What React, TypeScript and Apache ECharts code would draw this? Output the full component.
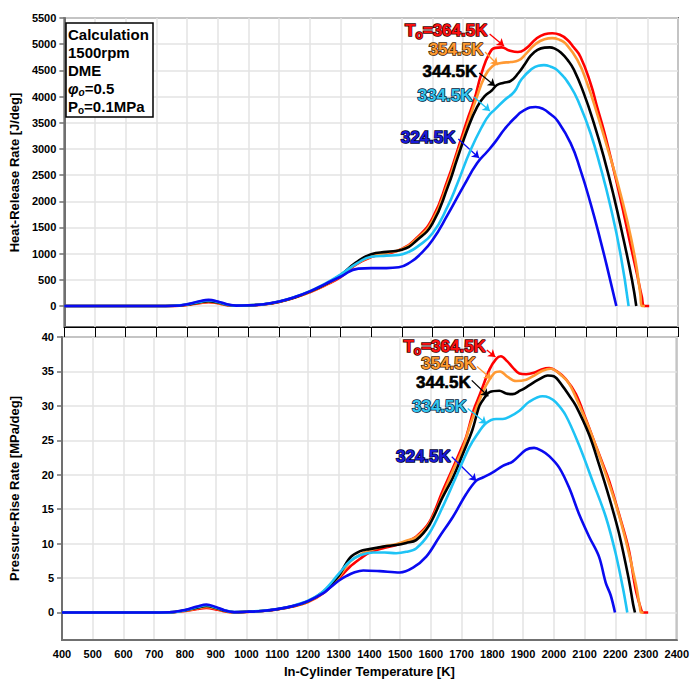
import React, { useEffect, useRef } from 'react';
import * as echarts from 'echarts';

const FONT = '"Liberation Sans", Arial, Helvetica, sans-serif';

// ---- data: [temperature K, value] ----
const hrr364 = [[400,0],[700,0],[760,4],[800,22],[840,55],[870,72],[900,52],[930,18],[960,5],[1000,12],[1050,32],[1100,80],[1150,160],[1200,265],[1250,395],[1300,550],[1350,790],[1400,935],[1450,1000],[1500,1090],[1550,1310],[1600,1680],[1650,2420],[1680,2950],[1713,3550],[1735,3920],[1760,4450],[1785,4820],[1805,4930],[1825,4940],[1850,4880],[1878,4850],[1905,4920],[1937,5100],[1965,5190],[1990,5210],[2015,5180],[2040,5080],[2060,4940],[2082,4760],[2115,4250],[2136,3810],[2158,3360],[2180,2850],[2201,2340],[2223,1770],[2244,1200],[2266,620],[2282,180],[2291,0],[2306,0]];
const hrr354 = [[400,0],[700,0],[760,5],[800,25],[840,62],[870,82],[900,60],[930,22],[960,6],[1000,12],[1050,33],[1100,82],[1150,162],[1200,270],[1250,405],[1300,570],[1350,805],[1400,945],[1450,1015],[1500,1085],[1550,1290],[1600,1630],[1650,2350],[1680,2880],[1713,3450],[1742,3950],[1770,4380],[1795,4580],[1823,4640],[1855,4660],[1880,4690],[1905,4820],[1935,5000],[1965,5095],[1990,5115],[2015,5080],[2034,5010],[2072,4700],[2104,4250],[2136,3680],[2169,3040],[2201,2400],[2234,1640],[2261,880],[2277,240],[2283,0],[2292,0]];
const hrr344 = [[400,0],[700,0],[760,5],[800,28],[840,70],[870,92],[900,68],[930,25],[960,7],[1000,13],[1050,34],[1100,84],[1150,165],[1200,275],[1250,415],[1300,590],[1350,830],[1400,990],[1450,1035],[1500,1075],[1550,1260],[1600,1580],[1650,2280],[1681,2820],[1713,3360],[1745,3800],[1770,4010],[1792,4110],[1810,4220],[1830,4260],[1855,4300],[1880,4450],[1900,4610],[1920,4780],[1942,4890],[1965,4935],[1982,4940],[2000,4910],[2018,4840],[2040,4700],[2061,4510],[2093,4060],[2126,3490],[2158,2850],[2191,2090],[2223,1260],[2250,500],[2264,0]];
const hrr334 = [[400,0],[700,0],[760,6],[800,32],[840,80],[870,105],[900,78],[930,30],[960,8],[1000,14],[1050,36],[1100,88],[1150,172],[1200,285],[1250,430],[1300,600],[1355,820],[1400,940],[1450,962],[1490,975],[1520,1030],[1550,1130],[1600,1390],[1649,1900],[1681,2340],[1724,2980],[1767,3490],[1785,3650],[1801,3740],[1834,3930],[1866,4090],[1890,4330],[1920,4510],[1945,4590],[1963,4600],[1985,4570],[2007,4500],[2050,4190],[2082,3810],[2115,3300],[2147,2660],[2180,1900],[2212,1010],[2239,0]];
const hrr324 = [[400,0],[700,0],[760,7],[800,36],[840,90],[870,118],[900,88],[930,35],[960,9],[1000,14],[1050,36],[1100,88],[1150,170],[1200,280],[1250,420],[1300,560],[1358,715],[1400,725],[1450,725],[1490,740],[1530,846],[1560,990],[1600,1260],[1649,1740],[1703,2310],[1745,2725],[1780,2960],[1805,3140],[1835,3380],[1866,3580],[1899,3740],[1936,3800],[1960,3765],[1985,3660],[2007,3540],[2050,3110],[2082,2600],[2115,1960],[2147,1260],[2174,620],[2199,0]];

const prr364 = [[400,0],[700,0],[760,0.03],[800,0.2],[840,0.5],[870,0.65],[900,0.45],[930,0.15],[960,0.02],[1000,0.08],[1050,0.2],[1100,0.45],[1150,0.85],[1200,1.5],[1250,2.8],[1300,4.9],[1336,6.6],[1370,7.8],[1400,8.7],[1450,9.4],[1487,9.8],[1520,10.3],[1552,11.0],[1595,13.1],[1638,17.6],[1672,21.0],[1703,24.2],[1715,25.5],[1740,29.5],[1758,31.5],[1791,35.3],[1812,36.8],[1828,37.2],[1848,36.5],[1866,35.6],[1888,34.7],[1910,34.6],[1935,34.8],[1960,35.3],[1985,35.5],[2010,35.0],[2039,33.9],[2072,31.7],[2104,28.1],[2136,24.3],[2160,21.5],[2180,19.1],[2212,14.3],[2244,9.1],[2266,3.4],[2285,0.3],[2290,0],[2307,0]];
const prr354 = [[400,0],[700,0],[760,0.04],[800,0.25],[840,0.6],[870,0.8],[900,0.56],[930,0.2],[960,0.03],[1000,0.09],[1050,0.21],[1100,0.46],[1150,0.87],[1200,1.55],[1250,2.9],[1300,5.1],[1336,7.3],[1370,8.4],[1400,9.0],[1450,9.6],[1487,9.9],[1520,10.4],[1552,10.9],[1595,12.9],[1638,17.0],[1672,20.6],[1703,23.7],[1730,27.5],[1758,30.8],[1780,33.0],[1807,34.8],[1825,35.0],[1850,34.2],[1877,33.6],[1910,33.8],[1940,34.5],[1963,35.1],[1990,35.4],[2028,34.3],[2050,33.2],[2072,31.2],[2115,26.7],[2158,21.5],[2201,15.8],[2234,10.5],[2266,4.3],[2280,0.8],[2284,0],[2292,0]];
const prr344 = [[400,0],[700,0],[760,0.05],[800,0.3],[840,0.7],[870,0.95],[900,0.66],[930,0.24],[960,0.04],[1000,0.1],[1050,0.22],[1100,0.47],[1150,0.9],[1200,1.6],[1250,3.0],[1300,5.3],[1336,7.9],[1370,8.9],[1400,9.2],[1450,9.6],[1487,9.8],[1520,10.1],[1552,10.5],[1595,12.7],[1638,16.7],[1672,19.6],[1703,22.9],[1735,26.5],[1758,30.0],[1775,31.2],[1791,32.0],[1823,32.2],[1845,31.8],[1866,31.7],[1890,32.2],[1910,32.7],[1950,33.8],[1980,34.4],[2000,34.3],[2028,32.9],[2050,31.5],[2072,30.0],[2115,25.8],[2147,21.5],[2180,16.7],[2212,11.5],[2244,4.8],[2258,1.2],[2264,0]];
const prr334 = [[400,0],[700,0],[760,0.05],[800,0.33],[840,0.78],[870,1.05],[900,0.73],[930,0.27],[960,0.05],[1000,0.1],[1050,0.23],[1100,0.5],[1150,0.95],[1200,1.7],[1250,3.1],[1300,5.6],[1336,7.4],[1370,8.3],[1412,8.7],[1450,8.7],[1487,8.6],[1520,8.8],[1552,9.3],[1595,11.5],[1638,15.3],[1681,19.6],[1724,23.9],[1750,25.8],[1780,27.5],[1812,28.1],[1834,28.1],[1855,28.4],[1888,29.3],[1920,30.6],[1963,31.4],[1985,31.2],[2007,30.5],[2039,28.6],[2082,24.3],[2126,19.1],[2169,13.9],[2201,8.6],[2225,3.5],[2239,0]];
const prr324 = [[400,0],[700,0],[760,0.06],[800,0.36],[840,0.85],[870,1.15],[900,0.8],[930,0.3],[960,0.05],[1000,0.1],[1050,0.22],[1100,0.48],[1150,0.92],[1200,1.65],[1250,2.8],[1272,3.6],[1300,4.6],[1326,5.3],[1350,5.8],[1380,6.1],[1434,6.0],[1499,5.8],[1542,6.5],[1585,8.1],[1628,11.0],[1672,13.9],[1715,17.2],[1747,19.1],[1769,19.6],[1800,20.3],[1834,21.3],[1866,21.9],[1909,23.6],[1936,23.9],[1960,23.5],[1985,22.7],[2018,21.0],[2050,18.1],[2082,14.3],[2115,11.0],[2147,8.1],[2169,4.3],[2185,2.5],[2199,0]];

const LABELS = ['364.5K', '354.5K', '344.5K', '334.5K', '324.5K'];
const HRR_SERIES = [hrr364, hrr354, hrr344, hrr334, hrr324];
const PRR_SERIES = [prr364, prr354, prr344, prr334, prr324];
const HRR_TICKS = [0, 500, 1000, 1500, 2000, 2500, 3000, 3500, 4000, 4500, 5000, 5500];
const PRR_TICKS = [0, 5, 10, 15, 20, 25, 30, 35, 40];

// annotation anchors (data coords): text right-middle, arrow start, arrow tip
const HRR_NOTES = [
  { text: [1779, 5252], from: [1786, 5195], to: [1833, 4966] },
  { text: [1766, 4889], from: [1771, 4851], to: [1813, 4603] },
  { text: [1746, 4469], from: [1752, 4450], to: [1804, 4202] },
  { text: [1730, 4011], from: [1735, 3992], to: [1787, 3724] },
  { text: [1675, 3209], from: [1684, 3190], to: [1752, 2827] },
];
const PRR_NOTES = [
  { text: [1779, 38.6], from: [1782, 38.1], to: [1810, 37.1] },
  { text: [1747, 36.1], from: [1750, 35.7], to: [1797, 33.9] },
  { text: [1730, 33.4], from: [1733, 33.7], to: [1787, 31.4] },
  { text: [1717, 29.9], from: [1720, 29.6], to: [1781, 27.4] },
  { text: [1665, 22.6], from: [1668, 22.6], to: [1748, 19.1] },
];

const COLORS = ['#ff0000', '#ff9933', '#000000', '#1ec3f5', '#0a0af0'];
const TEXT_FILL = ['#ff1010', '#ff9a30', '#000000', '#35c6ef', '#1a1ad8'];
const TEXT_STROKE = ['#3a0000', '#3a2000', '#000000', '#00203a', '#000030'];

export default function App() {
  const ref = useRef<HTMLDivElement>(null);
  useEffect(() => {
    if (!ref.current) return;
    const chart = echarts.init(ref.current, null, { renderer: 'svg' });

    const gridLine = { show: true, lineStyle: { color: '#e3e3e3', width: 1.5 } };
    const axisGray = { show: true, onZero: false, lineStyle: { color: '#707070', width: 2 } };
    const plain = (v: number) => String(v);
    const tickLabel = { color: '#000', fontFamily: FONT, fontWeight: 'bold' as const, fontSize: 11, formatter: plain };
    const nameStyle = { color: '#000', fontFamily: FONT, fontWeight: 'bold' as const, fontSize: 13 };

    const makeSeries = (sets: number[][][], notes: any[], gi: number) =>
      sets.map((d, i) => ({
        type: 'line',
        name: LABELS[i] + gi,
        xAxisIndex: gi,
        yAxisIndex: gi,
        data: d,
        symbol: 'none',
        showSymbol: false,
        smooth: gi === 0 ? 0.5 : 0.35,
        lineStyle: { color: COLORS[i], width: 2.6 },
        itemStyle: { color: COLORS[i] },
        z: 2 + i,
        markLine: {
          silent: true,
          animation: false,
          symbol: ['none', 'arrow'],
          symbolSize: 7,
          label: { show: false },
          lineStyle: { color: COLORS[i], width: 1.3, type: 'solid' },
          data: [[{ coord: notes[i].from }, { coord: notes[i].to }]],
        },
      }));

    const option: any = {
      animation: false,
      backgroundColor: '#ffffff',
      grid: [
        { left: 61, right: 14, top: 18, height: 309, show: true, borderColor: '#6a6a6a', borderWidth: 2, backgroundColor: 'transparent' },
        { left: 61, right: 14, top: 337, height: 309, show: true, borderColor: '#6a6a6a', borderWidth: 2, backgroundColor: 'transparent' },
      ],
      xAxis: [
        {
          gridIndex: 0, type: 'value', min: 400, max: 2400, interval: 100,
          axisLine: { show: true, onZero: false, lineStyle: { color: '#000', width: 1 } },
          axisTick: { show: true, inside: false, length: 10, lineStyle: { color: '#000', width: 1 } },
          axisLabel: { show: false },
          splitLine: gridLine,
        },
        {
          gridIndex: 1, type: 'value', min: 400, max: 2400, interval: 100,
          axisLine: axisGray,
          axisTick: { show: false },
          axisLabel: { ...tickLabel, margin: 8 },
          splitLine: gridLine,
          name: 'In-Cylinder Temperature [K]', nameLocation: 'middle', nameGap: 25,
          nameTextStyle: nameStyle,
        },
      ],
      yAxis: [
        {
          gridIndex: 0, type: 'value', min: -400, max: 5500,
          axisLine: axisGray,
          axisTick: { show: true, length: 5, customValues: HRR_TICKS, lineStyle: { color: '#707070', width: 1.5 } },
          axisLabel: { ...tickLabel, margin: 8, customValues: HRR_TICKS },
          splitLine: gridLine,
          name: 'Heat-Release Rate [J/deg]', nameLocation: 'middle', nameGap: 41,
          nameTextStyle: nameStyle,
        },
        {
          gridIndex: 1, type: 'value', min: -4, max: 40,
          axisLine: axisGray,
          axisTick: { show: true, length: 5, customValues: PRR_TICKS, lineStyle: { color: '#707070', width: 1.5 } },
          axisLabel: { ...tickLabel, margin: 8, customValues: PRR_TICKS },
          splitLine: gridLine,
          name: 'Pressure-Rise Rate [MPa/deg]', nameLocation: 'middle', nameGap: 41,
          nameTextStyle: nameStyle,
        },
      ],
      series: [...makeSeries(HRR_SERIES, HRR_NOTES, 0), ...makeSeries(PRR_SERIES, PRR_NOTES, 1)],
    };
    chart.setOption(option);

    const graphics: any[] = [];
    const noteRich = (i: number) => {
      const base = {
        fontFamily: FONT, fontWeight: 'bold', fill: TEXT_FILL[i], stroke: TEXT_STROKE[i],
        lineWidth: i === 2 ? 0.6 : 1.5,
      };
      return {
        a: { ...base, fontSize: 17, lineHeight: 20 },
        s: { ...base, fontSize: 12, lineHeight: 14, verticalAlign: 'bottom' },
      };
    };
    const addNotes = (notes: any[], gi: number) => {
      notes.forEach((n, i) => {
        const p = chart.convertToPixel({ gridIndex: gi }, n.text) as number[];
        const txt = i === 0 ? '{a|T}{s|o}{a|=' + LABELS[i] + '}' : '{a|' + LABELS[i] + '}';
        graphics.push({
          type: 'text', x: p[0], y: p[1], z: 100, silent: true,
          style: { text: txt, rich: noteRich(i), align: 'right', verticalAlign: 'middle' },
        });
      });
    };
    addNotes(HRR_NOTES, 0);
    addNotes(PRR_NOTES, 1);

    // condition box
    const boxBase = { fontFamily: FONT, fontWeight: 'bold', fill: '#000', fontSize: 15, lineHeight: 18 };
    const boxRich = {
      n: boxBase,
      g: { ...boxBase, fontStyle: 'italic' },
      s: { ...boxBase, fontSize: 10, lineHeight: 12, verticalAlign: 'bottom' },
      si: { ...boxBase, fontSize: 10, lineHeight: 12, verticalAlign: 'bottom', fontStyle: 'italic' },
    };
    const boxLines = ['{n|Calculation}', '{n|1500rpm}', '{n|DME}', '{g|φ}{si|o}{n|=0.5}', '{n|P}{s|o}{n|=0.1MPa}'];
    graphics.push({
      type: 'rect', z: 90, silent: true,
      shape: { x: 66, y: 23, width: 87, height: 94 },
      style: { fill: '#fff', stroke: '#000', lineWidth: 1.5 },
    });
    boxLines.forEach((t, k) => {
      graphics.push({
        type: 'text', z: 91, silent: true, x: 68, y: 34 + k * 18.2,
        style: { text: t, rich: boxRich, align: 'left', verticalAlign: 'middle' },
      });
    });

    chart.setOption({ graphic: graphics });
    return () => chart.dispose();
  }, []);

  return <div ref={ref} style={{ position: 'fixed', left: 0, top: 0, width: 692, height: 679 }} />;
}
